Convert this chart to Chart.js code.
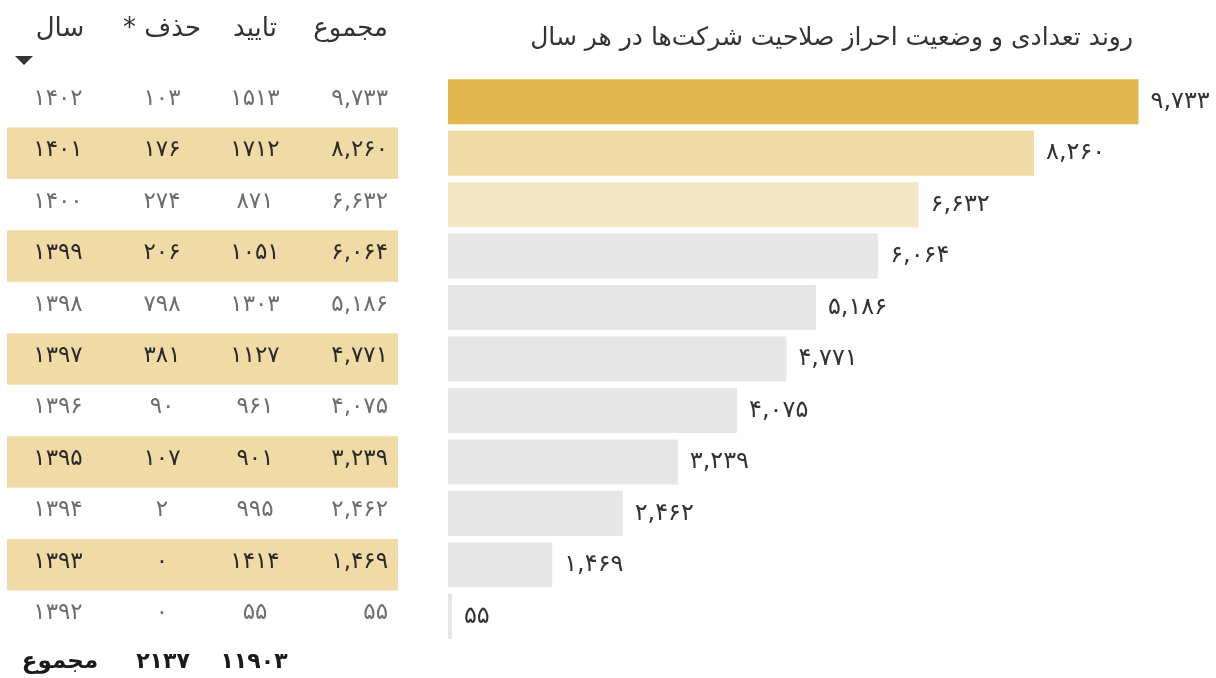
<!DOCTYPE html>
<html lang="fa">
<head>
<meta charset="utf-8">
<script src="https://cdn.jsdelivr.net/npm/chart.js@4/dist/chart.umd.min.js"></script>
<style>
  html, body { margin: 0; padding: 0; background: #ffffff; }
  #wrap { position: relative; width: 1216px; height: 678px; }
</style>
</head>
<body>
<div id="wrap"><canvas id="c"></canvas></div>
<script>
// ---- data ----
const titleText = 'روند تعدادی و وضعیت احراز صلاحیت شرکت‌ها در هر سال';
const years = [1402, 1401, 1400, 1399, 1398, 1397, 1396, 1395, 1394, 1393, 1392];
const totals = [9733, 8260, 6632, 6064, 5186, 4771, 4075, 3239, 2462, 1469, 55];
const approved = [1513, 1712, 871, 1051, 1303, 1127, 961, 901, 995, 1414, 55];
const removed = [103, 176, 274, 206, 798, 381, 90, 107, 2, 0, 0];
const headers = ['سال', 'حذف *', 'تایید', 'مجموع'];
const totalLabel = 'مجموع';
const removedSum = 2137;
const approvedSum = 11903;
const barColors = ['#E1B74E', '#F0DAA5', '#F5E7C6', '#E6E6E6', '#E6E6E6', '#E6E6E6', '#E6E6E6', '#E6E6E6', '#E6E6E6', '#E6E6E6', '#E6E6E6'];

const FONT = '"DejaVu Sans", sans-serif';
const faDigits = '۰۱۲۳۴۵۶۷۸۹';
function fa(n, sep) {
  const s = sep ? n.toLocaleString('en-US') : String(n);
  return s.replace(/[0-9]/g, d => faDigits[+d]);
}

const tablePlugin = {
  id: 'tablePlugin',
  beforeDatasetsDraw(chart) {
    const ctx = chart.ctx, y = chart.scales.y;
    const rowH = y.getPixelForValue(1) - y.getPixelForValue(0);
    ctx.save();
    ctx.fillStyle = '#F0DAA5';
    years.forEach((yr, i) => {
      if (i % 2 === 1) {
        const cy = y.getPixelForValue(i);
        ctx.fillRect(7, cy - rowH / 2, 391, rowH);
      }
    });
    ctx.restore();
  },
  afterDatasetsDraw(chart) {
    const ctx = chart.ctx, y = chart.scales.y;
    const meta = chart.getDatasetMeta(0);
    ctx.save();
    ctx.textBaseline = 'middle';

    // title
    ctx.fillStyle = '#333333';
    ctx.font = '25px ' + FONT;
    ctx.textAlign = 'right';
    ctx.direction = 'rtl';
    ctx.fillText(titleText, 1133, 38);

    // headers
    ctx.font = '26px ' + FONT;
    ctx.fillStyle = '#333333';
    ctx.textAlign = 'center';
    ctx.fillText(headers[0], 60, 29);
    ctx.fillText(headers[1], 162, 29);
    ctx.fillText(headers[2], 255, 29);
    ctx.textAlign = 'right';
    ctx.fillText(headers[3], 388, 29);
    ctx.direction = 'ltr';

    // sort triangle
    ctx.beginPath();
    ctx.moveTo(15, 56);
    ctx.lineTo(33, 56);
    ctx.lineTo(24, 65);
    ctx.closePath();
    ctx.fill();

    // rows
    ctx.font = '23px ' + FONT;
    ctx.letterSpacing = '1.5px';
    years.forEach((yr, i) => {
      const cy = y.getPixelForValue(i) - 3;
      ctx.fillStyle = (i % 2 === 1) ? '#2a2a2a' : '#6e6e6e';
      ctx.textAlign = 'center';
      ctx.fillText(fa(yr), 58, cy);
      ctx.fillText(fa(removed[i]), 162, cy);
      ctx.fillText(fa(approved[i]), 255, cy);
      ctx.textAlign = 'right';
      ctx.fillText(fa(totals[i], true), 388, cy);
    });

    // total row
    ctx.letterSpacing = '0px';
    ctx.font = 'bold 23px ' + FONT;
    ctx.fillStyle = '#1a1a1a';
    ctx.textAlign = 'center';
    ctx.direction = 'rtl';
    ctx.fillText(totalLabel, 60, 662);
    ctx.direction = 'ltr';
    ctx.font = 'bold 22px ' + FONT;
    ctx.fillText(fa(removedSum), 163, 662);
    ctx.fillText(fa(approvedSum), 254, 662);

    // bar value labels
    ctx.font = '24px ' + FONT;
    ctx.letterSpacing = '1px';
    ctx.fillStyle = '#333333';
    ctx.textAlign = 'left';
    meta.data.forEach((bar, i) => {
      const txt = fa(totals[i], true);
      const w = ctx.measureText(txt).width;
      let x = bar.x + 12;
      if (x + w > 1214) x = 1214 - w;
      ctx.fillText(txt, x, bar.y);
    });
    ctx.restore();
  }
};

new Chart(document.getElementById('c'), {
  type: 'bar',
  data: {
    labels: years.map(v => fa(v)),
    datasets: [{
      data: totals,
      backgroundColor: barColors,
      borderWidth: 0,
      barPercentage: 0.875,
      categoryPercentage: 1.0
    }]
  },
  options: {
    indexAxis: 'y',
    responsive: true,
    maintainAspectRatio: false,
    animation: false,
    layout: { padding: { left: 448, right: 16, top: 76, bottom: 36 } },
    plugins: { legend: { display: false }, tooltip: { enabled: false }, title: { display: false } },
    scales: {
      x: { display: false, min: 0, max: 10600 },
      y: { display: false }
    }
  },
  plugins: [tablePlugin]
});
</script>
</body>
</html>
